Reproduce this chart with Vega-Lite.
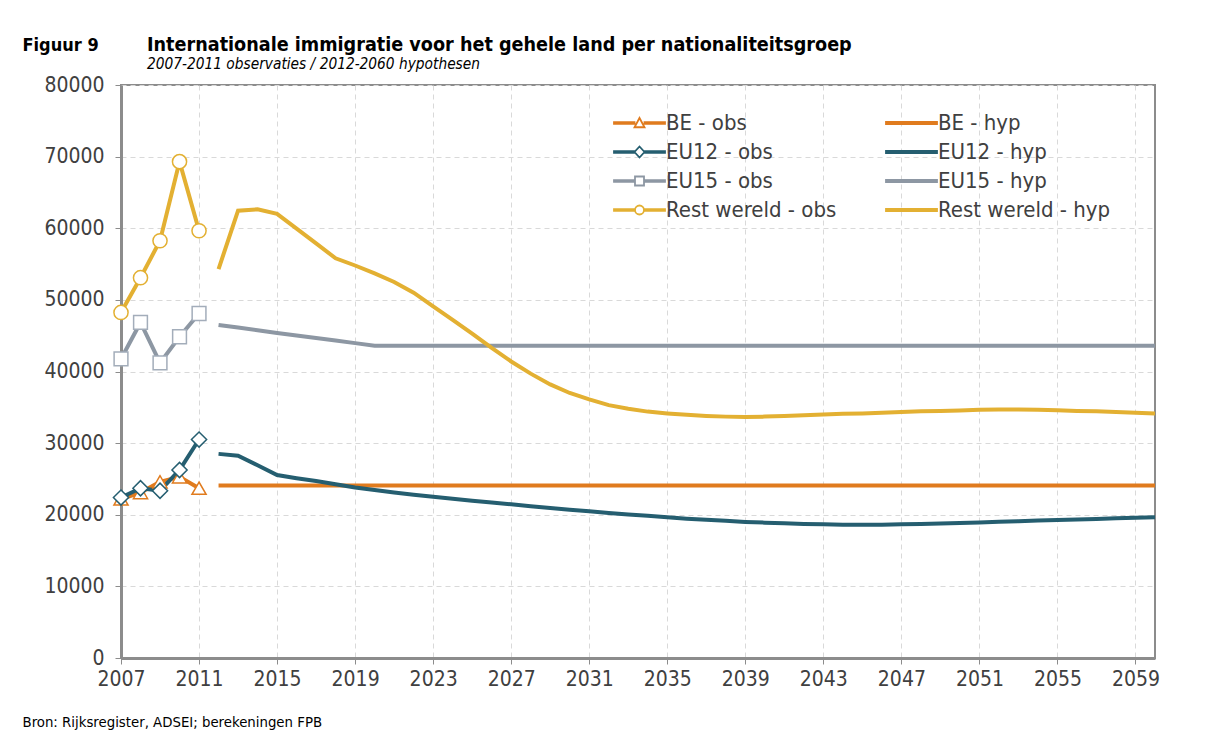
{
  "$schema": "https://vega.github.io/schema/vega-lite/v6.json",
  "autosize": "none",
  "width": 1034,
  "height": 573,
  "padding": {"left": 121, "top": 85, "right": 51, "bottom": 93},
  "background": "white",
  "title": {
    "text": "Internationale immigratie voor het gehele land per nationaliteitsgroep",
    "subtitle": "2007-2011 observaties / 2012-2060 hypothesen",
    "anchor": "start",
    "frame": "group",
    "dx": 26,
    "offset": -37
  },
  "datasets": {
    "obs": [
      {"year": 2007, "value": 22200, "series": "BE", "label": "BE - obs"},
      {"year": 2008, "value": 23100, "series": "BE", "label": "BE - obs"},
      {"year": 2009, "value": 24600, "series": "BE", "label": "BE - obs"},
      {"year": 2010, "value": 25300, "series": "BE", "label": "BE - obs"},
      {"year": 2011, "value": 23700, "series": "BE", "label": "BE - obs"},
      {"year": 2007, "value": 22400, "series": "EU12", "label": "EU12 - obs"},
      {"year": 2008, "value": 23700, "series": "EU12", "label": "EU12 - obs"},
      {"year": 2009, "value": 23350, "series": "EU12", "label": "EU12 - obs"},
      {"year": 2010, "value": 26250, "series": "EU12", "label": "EU12 - obs"},
      {"year": 2011, "value": 30500, "series": "EU12", "label": "EU12 - obs"},
      {"year": 2007, "value": 41750, "series": "EU15", "label": "EU15 - obs"},
      {"year": 2008, "value": 46850, "series": "EU15", "label": "EU15 - obs"},
      {"year": 2009, "value": 41200, "series": "EU15", "label": "EU15 - obs"},
      {"year": 2010, "value": 44850, "series": "EU15", "label": "EU15 - obs"},
      {"year": 2011, "value": 48100, "series": "EU15", "label": "EU15 - obs"},
      {"year": 2007, "value": 48250, "series": "Rest wereld", "label": "Rest wereld - obs"},
      {"year": 2008, "value": 53100, "series": "Rest wereld", "label": "Rest wereld - obs"},
      {"year": 2009, "value": 58250, "series": "Rest wereld", "label": "Rest wereld - obs"},
      {"year": 2010, "value": 69300, "series": "Rest wereld", "label": "Rest wereld - obs"},
      {"year": 2011, "value": 59650, "series": "Rest wereld", "label": "Rest wereld - obs"}
    ],
    "hyp": [
      {"year": 2012, "value": 24100, "label": "BE - hyp"},
      {"year": 2060, "value": 24100, "label": "BE - hyp"},
      {"year": 2012, "value": 46500, "label": "EU15 - hyp"},
      {"year": 2013, "value": 46130, "label": "EU15 - hyp"},
      {"year": 2014, "value": 45760, "label": "EU15 - hyp"},
      {"year": 2015, "value": 45390, "label": "EU15 - hyp"},
      {"year": 2016, "value": 45030, "label": "EU15 - hyp"},
      {"year": 2017, "value": 44680, "label": "EU15 - hyp"},
      {"year": 2018, "value": 44320, "label": "EU15 - hyp"},
      {"year": 2019, "value": 43960, "label": "EU15 - hyp"},
      {"year": 2020, "value": 43600, "label": "EU15 - hyp"},
      {"year": 2060, "value": 43600, "label": "EU15 - hyp"},
      {"year": 2012, "value": 28500, "label": "EU12 - hyp"},
      {"year": 2013, "value": 28250, "label": "EU12 - hyp"},
      {"year": 2014, "value": 26900, "label": "EU12 - hyp"},
      {"year": 2015, "value": 25550, "label": "EU12 - hyp"},
      {"year": 2016, "value": 25100, "label": "EU12 - hyp"},
      {"year": 2017, "value": 24700, "label": "EU12 - hyp"},
      {"year": 2018, "value": 24250, "label": "EU12 - hyp"},
      {"year": 2019, "value": 23800, "label": "EU12 - hyp"},
      {"year": 2020, "value": 23450, "label": "EU12 - hyp"},
      {"year": 2021, "value": 23100, "label": "EU12 - hyp"},
      {"year": 2022, "value": 22800, "label": "EU12 - hyp"},
      {"year": 2023, "value": 22500, "label": "EU12 - hyp"},
      {"year": 2024, "value": 22250, "label": "EU12 - hyp"},
      {"year": 2025, "value": 21950, "label": "EU12 - hyp"},
      {"year": 2026, "value": 21700, "label": "EU12 - hyp"},
      {"year": 2027, "value": 21450, "label": "EU12 - hyp"},
      {"year": 2028, "value": 21200, "label": "EU12 - hyp"},
      {"year": 2029, "value": 20950, "label": "EU12 - hyp"},
      {"year": 2030, "value": 20700, "label": "EU12 - hyp"},
      {"year": 2031, "value": 20500, "label": "EU12 - hyp"},
      {"year": 2032, "value": 20250, "label": "EU12 - hyp"},
      {"year": 2033, "value": 20050, "label": "EU12 - hyp"},
      {"year": 2034, "value": 19850, "label": "EU12 - hyp"},
      {"year": 2035, "value": 19650, "label": "EU12 - hyp"},
      {"year": 2036, "value": 19450, "label": "EU12 - hyp"},
      {"year": 2037, "value": 19300, "label": "EU12 - hyp"},
      {"year": 2038, "value": 19150, "label": "EU12 - hyp"},
      {"year": 2039, "value": 19000, "label": "EU12 - hyp"},
      {"year": 2040, "value": 18900, "label": "EU12 - hyp"},
      {"year": 2041, "value": 18800, "label": "EU12 - hyp"},
      {"year": 2042, "value": 18720, "label": "EU12 - hyp"},
      {"year": 2043, "value": 18660, "label": "EU12 - hyp"},
      {"year": 2044, "value": 18620, "label": "EU12 - hyp"},
      {"year": 2045, "value": 18600, "label": "EU12 - hyp"},
      {"year": 2046, "value": 18620, "label": "EU12 - hyp"},
      {"year": 2047, "value": 18660, "label": "EU12 - hyp"},
      {"year": 2048, "value": 18710, "label": "EU12 - hyp"},
      {"year": 2049, "value": 18780, "label": "EU12 - hyp"},
      {"year": 2050, "value": 18850, "label": "EU12 - hyp"},
      {"year": 2051, "value": 18930, "label": "EU12 - hyp"},
      {"year": 2052, "value": 19010, "label": "EU12 - hyp"},
      {"year": 2053, "value": 19100, "label": "EU12 - hyp"},
      {"year": 2054, "value": 19180, "label": "EU12 - hyp"},
      {"year": 2055, "value": 19260, "label": "EU12 - hyp"},
      {"year": 2056, "value": 19340, "label": "EU12 - hyp"},
      {"year": 2057, "value": 19420, "label": "EU12 - hyp"},
      {"year": 2058, "value": 19500, "label": "EU12 - hyp"},
      {"year": 2059, "value": 19580, "label": "EU12 - hyp"},
      {"year": 2060, "value": 19640, "label": "EU12 - hyp"},
      {"year": 2012, "value": 54300, "label": "Rest wereld - hyp"},
      {"year": 2013, "value": 62450, "label": "Rest wereld - hyp"},
      {"year": 2014, "value": 62650, "label": "Rest wereld - hyp"},
      {"year": 2015, "value": 62000, "label": "Rest wereld - hyp"},
      {"year": 2016, "value": 59950, "label": "Rest wereld - hyp"},
      {"year": 2017, "value": 57900, "label": "Rest wereld - hyp"},
      {"year": 2018, "value": 55800, "label": "Rest wereld - hyp"},
      {"year": 2019, "value": 54800, "label": "Rest wereld - hyp"},
      {"year": 2020, "value": 53700, "label": "Rest wereld - hyp"},
      {"year": 2021, "value": 52500, "label": "Rest wereld - hyp"},
      {"year": 2022, "value": 51000, "label": "Rest wereld - hyp"},
      {"year": 2023, "value": 49100, "label": "Rest wereld - hyp"},
      {"year": 2024, "value": 47200, "label": "Rest wereld - hyp"},
      {"year": 2025, "value": 45300, "label": "Rest wereld - hyp"},
      {"year": 2026, "value": 43300, "label": "Rest wereld - hyp"},
      {"year": 2027, "value": 41400, "label": "Rest wereld - hyp"},
      {"year": 2028, "value": 39700, "label": "Rest wereld - hyp"},
      {"year": 2029, "value": 38200, "label": "Rest wereld - hyp"},
      {"year": 2030, "value": 37000, "label": "Rest wereld - hyp"},
      {"year": 2031, "value": 36100, "label": "Rest wereld - hyp"},
      {"year": 2032, "value": 35300, "label": "Rest wereld - hyp"},
      {"year": 2033, "value": 34800, "label": "Rest wereld - hyp"},
      {"year": 2034, "value": 34400, "label": "Rest wereld - hyp"},
      {"year": 2035, "value": 34150, "label": "Rest wereld - hyp"},
      {"year": 2036, "value": 33950, "label": "Rest wereld - hyp"},
      {"year": 2037, "value": 33800, "label": "Rest wereld - hyp"},
      {"year": 2038, "value": 33700, "label": "Rest wereld - hyp"},
      {"year": 2039, "value": 33650, "label": "Rest wereld - hyp"},
      {"year": 2040, "value": 33700, "label": "Rest wereld - hyp"},
      {"year": 2041, "value": 33800, "label": "Rest wereld - hyp"},
      {"year": 2042, "value": 33900, "label": "Rest wereld - hyp"},
      {"year": 2043, "value": 34000, "label": "Rest wereld - hyp"},
      {"year": 2044, "value": 34100, "label": "Rest wereld - hyp"},
      {"year": 2045, "value": 34150, "label": "Rest wereld - hyp"},
      {"year": 2046, "value": 34250, "label": "Rest wereld - hyp"},
      {"year": 2047, "value": 34350, "label": "Rest wereld - hyp"},
      {"year": 2048, "value": 34450, "label": "Rest wereld - hyp"},
      {"year": 2049, "value": 34500, "label": "Rest wereld - hyp"},
      {"year": 2050, "value": 34550, "label": "Rest wereld - hyp"},
      {"year": 2051, "value": 34650, "label": "Rest wereld - hyp"},
      {"year": 2052, "value": 34700, "label": "Rest wereld - hyp"},
      {"year": 2053, "value": 34700, "label": "Rest wereld - hyp"},
      {"year": 2054, "value": 34650, "label": "Rest wereld - hyp"},
      {"year": 2055, "value": 34600, "label": "Rest wereld - hyp"},
      {"year": 2056, "value": 34500, "label": "Rest wereld - hyp"},
      {"year": 2057, "value": 34450, "label": "Rest wereld - hyp"},
      {"year": 2058, "value": 34350, "label": "Rest wereld - hyp"},
      {"year": 2059, "value": 34250, "label": "Rest wereld - hyp"},
      {"year": 2060, "value": 34150, "label": "Rest wereld - hyp"}
    ]
  },
  "encoding": {
    "x": {
      "field": "year",
      "type": "quantitative",
      "scale": {"domain": [2007, 2060], "nice": false, "zero": false},
      "axis": {
        "values": [2007, 2011, 2015, 2019, 2023, 2027, 2031, 2035, 2039, 2043, 2047, 2051, 2055, 2059],
        "format": "d",
        "title": "Bron: Rijksregister, ADSEI; berekeningen FPB",
        "titleX": -99,
        "titleY": 68,
        "titleAlign": "left",
        "titleBaseline": "alphabetic",
        "titleFontSize": 14.8,
        "titleFontWeight": "normal",
        "titleColor": "#000000"
      }
    },
    "y": {
      "field": "value",
      "type": "quantitative",
      "scale": {"domain": [0, 80000], "nice": false},
      "axis": {
        "values": [0, 10000, 20000, 30000, 40000, 50000, 60000, 70000, 80000],
        "format": "d",
        "title": "Figuur 9",
        "titleAngle": 0,
        "titleX": -99,
        "titleY": -35,
        "titleAlign": "left",
        "titleBaseline": "alphabetic",
        "titleFontSize": 18,
        "titleFontWeight": "bold",
        "titleColor": "#000000"
      }
    }
  },
  "layer": [
    {
      "data": {"name": "hyp"},
      "mark": {"type": "line", "strokeWidth": 4, "strokeCap": "butt"},
      "encoding": {
        "stroke": {
          "field": "label",
          "type": "nominal",
          "scale": {
            "domain": ["BE - hyp", "BE - obs", "EU12 - hyp", "EU12 - obs", "EU15 - hyp", "EU15 - obs", "Rest wereld - hyp", "Rest wereld - obs"],
            "range": ["#E07B1E", "#E07B1E", "#255E70", "#255E70", "#8D97A3", "#8D97A3", "#E3B032", "#E3B032"]
          },
          "legend": null
        }
      }
    },
    {
      "data": {"name": "obs"},
      "mark": {"type": "line", "strokeWidth": 4, "strokeCap": "butt"},
      "encoding": {
        "stroke": {"field": "label", "type": "nominal", "legend": null}
      }
    },
    {
      "data": {"name": "hyp"},
      "mark": {"type": "point", "fill": "white", "strokeWidth": 1.8, "opacity": 0},
      "encoding": {
        "color": {
          "field": "label",
          "type": "nominal",
          "scale": {
            "domain": ["BE - obs", "EU12 - obs", "EU15 - obs", "Rest wereld - obs", "BE - hyp", "EU12 - hyp", "EU15 - hyp", "Rest wereld - hyp"],
            "range": ["#E07B1E", "#255E70", "#8D97A3", "#E3B032", "#E07B1E", "#255E70", "#8D97A3", "#E3B032"]
          },
          "legend": {
            "orient": "none",
            "legendX": 487,
            "legendY": 27,
            "direction": "vertical",
            "columns": 2,
            "title": null,
            "symbolSize": 100,
            "symbolOpacity": 1,
            "symbolStrokeWidth": 1.8,
            "labelOffset": 36,
            "labelLimit": 400,
            "columnPadding": 43,
            "rowPadding": 7,
            "padding": 0
          }
        },
        "shape": {
          "field": "label",
          "type": "nominal",
          "scale": {
            "domain": ["BE - obs", "EU12 - obs", "EU15 - obs", "Rest wereld - obs", "BE - hyp", "EU12 - hyp", "EU15 - hyp", "Rest wereld - hyp"],
            "range": [
              "M-1,-0.18H3.1V0.18H-1Z M5.1,-0.18H9.2V0.18H5.1Z M4.1,-1L5.1,0.85L3.1,0.85Z",
              "M-1,-0.18H3.1V0.18H-1Z M5.1,-0.18H9.2V0.18H5.1Z M4.1,-1.1L5.1,0L4.1,1.1L3.1,0Z",
              "M-1,-0.18H3.1V0.18H-1Z M5.1,-0.18H9.2V0.18H5.1Z M3.2,-0.9H5V0.9H3.2Z",
              "M-1,-0.18H3.1V0.18H-1Z M5.1,-0.18H9.2V0.18H5.1Z M5,0A0.9,0.9 0 1,1 3.2,0A0.9,0.9 0 1,1 5,0Z",
              "M-1,-0.2H9.2V0.2H-1Z",
              "M-1,-0.2H9.2V0.2H-1Z",
              "M-1,-0.2H9.2V0.2H-1Z",
              "M-1,-0.2H9.2V0.2H-1Z"
            ]
          },
          "legend": {
            "orient": "none",
            "legendX": 487,
            "legendY": 27,
            "direction": "vertical",
            "columns": 2,
            "title": null,
            "symbolOpacity": 1,
            "labelLimit": 400
          }
        }
      }
    },
    {
      "data": {"name": "obs"},
      "transform": [{"filter": "datum.series == 'BE'"}],
      "mark": {"type": "point", "shape": "triangle-up", "size": 200, "fill": "white", "stroke": "#E07B1E", "strokeWidth": 1.5, "opacity": 1}
    },
    {
      "data": {"name": "obs"},
      "transform": [{"filter": "datum.series == 'EU15'"}],
      "mark": {"type": "point", "shape": "square", "size": 190, "fill": "white", "stroke": "#A3ADBA", "strokeWidth": 1.5, "opacity": 1}
    },
    {
      "data": {"name": "obs"},
      "transform": [{"filter": "datum.series == 'EU12'"}],
      "mark": {"type": "point", "shape": "diamond", "size": 230, "fill": "white", "stroke": "#255E70", "strokeWidth": 1.5, "opacity": 1}
    },
    {
      "data": {"name": "obs"},
      "transform": [{"filter": "datum.series == 'Rest wereld'"}],
      "mark": {"type": "point", "shape": "circle", "size": 200, "fill": "white", "stroke": "#E3B032", "strokeWidth": 1.5, "opacity": 1}
    }
  ],
  "config": {
    "font": "DejaVu Sans Condensed, DejaVu Sans, sans-serif",
    "view": {"stroke": "#8C8C8C", "strokeWidth": 2},
    "axis": {
      "domainColor": "#8C8C8C",
      "domainWidth": 3,
      "tickColor": "#8C8C8C",
      "tickSize": 6,
      "tickWidth": 1,
      "gridColor": "#D9D9D9",
      "gridDash": [5, 4],
      "gridWidth": 1,
      "labelFontSize": 21,
      "labelColor": "#404040",
      "labelFlush": false,
      "labelOverlap": false
    },
    "axisX": {"labelPadding": 4},
    "axisY": {"labelPadding": 11},
    "legend": {
      "labelFontSize": 22,
      "labelColor": "#404040",
      "labelLimit": 400,
      "symbolStrokeWidth": 1.8
    },
    "title": {
      "fontSize": 19.6,
      "fontWeight": "bold",
      "color": "#000000",
      "subtitleFontSize": 15.3,
      "subtitleFontStyle": "italic",
      "subtitleColor": "#000000",
      "subtitlePadding": 1
    }
  }
}
